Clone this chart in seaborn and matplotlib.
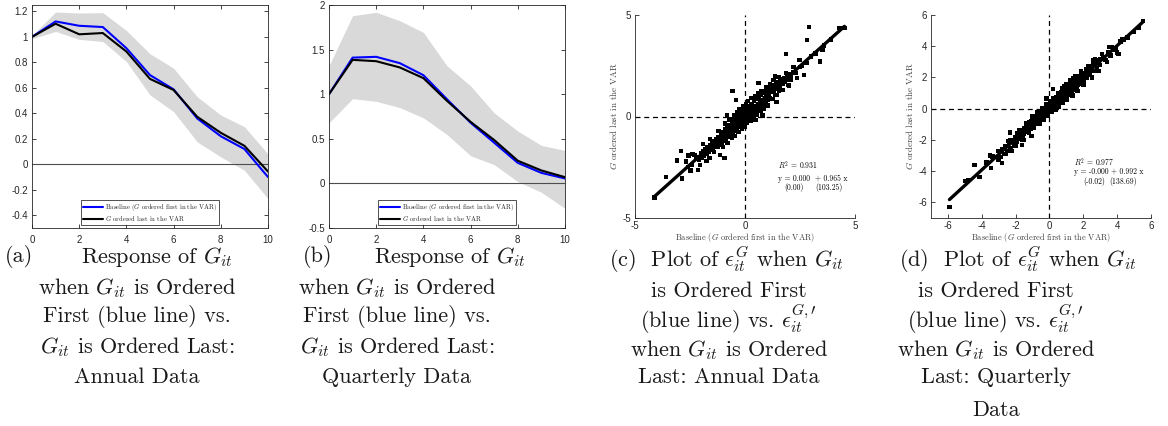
import matplotlib
matplotlib.use("Agg")
import matplotlib.pyplot as plt
from matplotlib.ticker import FuncFormatter
import seaborn as sns

# impulse responses, horizon 0..10
horizon = [0, 1, 2, 3, 4, 5, 6, 7, 8, 9, 10]
annual_first = [1.0, 1.121, 1.087, 1.077, 0.911, 0.70, 0.588, 0.36, 0.22, 0.12, -0.10]
annual_last = [1.0, 1.103, 1.02, 1.03, 0.885, 0.67, 0.583, 0.373, 0.247, 0.145, -0.057]
annual_hi = [1.01, 1.195, 1.187, 1.19, 1.05, 0.867, 0.754, 0.53, 0.386, 0.295, 0.08]
annual_lo = [0.985, 1.043, 0.98, 0.964, 0.806, 0.544, 0.413, 0.176, 0.058, -0.047, -0.27]

quarterly_first = [1.0, 1.41, 1.419, 1.348, 1.213, 0.943, 0.68, 0.456, 0.23, 0.118, 0.055]
quarterly_last = [1.0, 1.385, 1.37, 1.30, 1.18, 0.925, 0.69, 0.486, 0.254, 0.145, 0.07]
quarterly_hi = [1.32, 1.88, 1.918, 1.824, 1.693, 1.318, 1.093, 0.79, 0.587, 0.426, 0.37]
quarterly_lo = [0.68, 0.95, 0.92, 0.85, 0.735, 0.548, 0.31, 0.21, 0.02, -0.10, -0.28]

# residuals, annual (x: G first, y: G last)
annual_res_x = [
    -2.2, -2.1, -2.0, -1.95, -1.9, -1.85, -1.8, -1.75, -1.7, -1.65, -1.6, -1.55, -1.5, -1.5, -1.45,
    -1.4, -1.35, -1.3, -1.3, -1.25, -1.2, -1.2, -1.15, -1.1, -1.1, -1.05, -1.0, -1.0, -0.95, -0.9,
    -0.9, -0.85, -0.8, -0.8, -0.75, -0.7, -0.7, -0.65, -0.6, -0.6, -0.55, -0.5, -0.5, -0.45, -0.4,
    -0.4, -0.35, -0.3, -0.3, -0.25, -0.2, -0.2, -0.15, -0.1, -0.1, -0.05, 0.0, 0.0, 0.0,
    0.05, 0.1, 0.1, 0.15, 0.2, 0.2, 0.25, 0.3, 0.3, 0.35, 0.4, 0.4, 0.45, 0.5, 0.5, 0.55, 0.6, 0.6,
    0.65, 0.7, 0.7, 0.75, 0.8, 0.8, 0.85, 0.9, 0.9, 0.95, 1.0, 1.0, 1.05,
    1.1, 1.1, 1.15, 1.2, 1.2, 1.3, 1.3, 1.35, 1.4, 1.4, 1.5, 1.5, 1.55, 1.6, 1.6, 1.7, 1.7, 1.8, 1.8,
    1.9, 1.9, 2.0, 2.1, 2.2, 2.3, 2.5, 2.6, 2.8, 3.0, 3.2, 3.6, 3.9,
    -1.6, -1.4, -1.2, -1.0, -0.9, -0.8, -0.7, -0.6, -0.5, -0.45, -0.35, -0.3, -0.25, -0.15, -0.1,
    0.0, 0.05, 0.1, 0.15, 0.25, 0.3, 0.4, 0.45, 0.55, 0.6, 0.7, 0.75, 0.85, 0.95, 1.05, 1.15, 1.25,
    1.3, 1.45, 1.55, 1.7, 1.85, 2.0, 2.2, 2.35, -1.75, -1.9, -2.05, -2.3, -2.4, -2.6, -0.65, -0.2,
    0.35, 0.65, 0.95, 1.25, -0.95, -1.35,
    -0.56, -0.41, -0.83, -2.92, -3.10, -3.59, -2.86, -2.47, -2.15, -2.38, -2.56, -2.68, -0.94,
    -1.14, -1.62, -4.12, 2.91, 2.83, 1.86, 3.52, 3.41, 4.29, 4.52, 2.47, 2.67, 2.09, 1.97, 1.36,
    0.61, 1.44, 0.79, 0.48, 1.59,
]
annual_res_y = [
    -2.0, -2.15, -1.8, -2.05, -1.7, -1.95, -1.6, -1.85, -1.5, -1.75, -1.4, -1.65, -1.3, -1.55, -1.6,
    -1.2, -1.45, -1.1, -1.35, -1.5, -1.0, -1.25, -1.4, -0.9, -1.15, -1.3, -0.75, -1.0, -1.2, -0.65,
    -0.9, -1.1, -0.55, -0.8, -1.0, -0.45, -0.7, -0.9, -0.35, -0.6, -0.8, -0.2, -0.5, -0.7, -0.1,
    -0.4, -0.6, 0.05, -0.3, -0.5, 0.15, -0.2, -0.4, 0.25, -0.1, -0.3, 0.35, 0.0, -0.25,
    0.15, 0.45, 0.1, -0.1, 0.5, 0.2, 0.0, 0.6, 0.3, 0.1, 0.75, 0.4, 0.2, 0.85, 0.5, 0.3, 0.95, 0.6,
    0.4, 1.05, 0.7, 0.5, 1.15, 0.8, 0.6, 1.25, 0.9, 0.7, 1.3, 1.0, 0.8,
    1.4, 1.1, 0.9, 1.5, 1.2, 1.55, 1.25, 1.05, 1.6, 1.35, 1.7, 1.45, 1.25, 1.75, 1.55, 1.85, 1.6, 1.9, 1.7,
    2.0, 1.8, 2.1, 1.95, 2.2, 2.15, 2.45, 2.5, 2.65, 2.95, 3.1, 3.5, 3.8,
    -1.1, -1.75, -0.7, -1.5, -0.35, -1.3, -0.15, -1.05, 0.05, -0.95, 0.2, -0.75, 0.35, -0.6, 0.5,
    -0.5, 0.6, -0.3, 0.75, -0.2, 0.9, 0.0, 1.0, 0.1, 1.15, 0.3, 1.25, 0.4, 1.45, 0.55, 1.6, 0.85,
    1.8, 1.05, 1.95, 1.3, 2.15, 1.5, 2.45, 1.9, -2.2, -1.35, -2.4, -1.9, -2.4, -2.5, -0.5, 0.0,
    0.45, 0.85, 1.1, 1.35, -0.8, -1.3,
    1.27, 0.82, 0.08, -1.69, -2.17, -2.99, -3.05, -2.66, -2.63, -1.85, -1.93, -2.22, -2.05,
    -1.89, -2.05, -3.99, 4.40, 3.78, 3.07, 3.30, 2.71, 4.37, 4.37, 2.79, 2.05, 1.81, 1.56, 1.97,
    1.64, 0.71, 0.05, -0.18, 1.53,
]

# residuals, quarterly
quarterly_res_x = [
    -3.2, -3.0, -2.9, -2.8, -2.7, -2.6, -2.5, -2.4, -2.3, -2.2, -2.1, -2.0, -1.95, -1.9, -1.8, -1.75,
    -1.7, -1.6, -1.6, -1.5, -1.5, -1.4, -1.4, -1.3, -1.3, -1.2, -1.2, -1.1, -1.1, -1.0, -1.0, -0.9,
    -0.9, -0.8, -0.8, -0.7, -0.7, -0.6, -0.6, -0.5, -0.5, -0.4, -0.4, -0.3, -0.3, -0.2, -0.2, -0.1,
    -0.1, 0.0, 0.0, 0.1, 0.1, 0.2, 0.2, 0.3, 0.3, 0.4, 0.4, 0.5, 0.5, 0.6, 0.6, 0.7, 0.7, 0.8, 0.8,
    0.9, 0.9, 1.0, 1.0, 1.1, 1.1, 1.2, 1.2, 1.3, 1.3, 1.4, 1.4, 1.5, 1.5, 1.6, 1.6, 1.7, 1.7, 1.8,
    1.8, 1.9, 1.9, 2.0, 2.0, 2.2, 2.2, 2.4, 2.4, 2.6, 2.6, 2.8, 2.8, 3.0, 3.0, 3.2, 3.3, 3.5, 3.6,
    3.8, 3.9, 4.2, 4.4, 4.6, 5.0, 5.3,
    -2.6, -2.3, -2.0, -1.8, -1.6, -1.4, -1.2, -1.0, -0.9, -0.7, -0.6, -0.45, -0.35, -0.2, -0.1, 0.05,
    0.15, 0.25, 0.35, 0.5, 0.55, 0.75, 0.8, 1.0, 1.05, 1.25, 1.35, 1.55, 1.65, 1.85, 2.0, 2.3, 2.5,
    2.7, 2.9, 3.1, 3.4, 3.7, 4.0, 4.3, -3.5, -3.0, -1.3, -0.8, -0.25, 0.45, 0.95, 1.45, 2.1, 2.7,
    -5.91, -4.98, -4.79, -4.43, -4.14, -3.71, -3.45, -2.82, -3.37, -2.43, -2.24, -2.04, -1.61,
    -1.5, -1.06, -2.33, -0.22, 5.51, 4.08, 3.55, 2.96, 2.57, 2.18, 1.39, 0.90, -0.18, 0.22,
]
quarterly_res_y = [
    -3.1, -2.7, -3.1, -2.6, -2.9, -2.4, -2.7, -2.2, -2.5, -2.0, -2.3, -1.8, -2.15, -1.6, -1.95, -1.5,
    -1.75, -1.35, -1.85, -1.25, -1.6, -1.1, -1.5, -1.0, -1.4, -0.85, -1.25, -0.8, -1.3, -0.65, -1.1, -0.55,
    -1.0, -0.45, -0.95, -0.35, -0.8, -0.25, -0.7, -0.15, -0.6, -0.05, -0.5, 0.05, -0.45, 0.15, -0.3, 0.2,
    -0.25, 0.3, -0.15, 0.4, -0.05, 0.5, 0.05, 0.65, 0.1, 0.75, 0.2, 0.85, 0.3, 0.95, 0.4, 1.05, 0.5, 1.15, 0.6,
    1.25, 0.7, 1.3, 0.8, 1.4, 0.9, 1.5, 1.0, 1.6, 1.1, 1.7, 1.2, 1.8, 1.3, 1.9, 1.4, 2.0, 1.5, 2.1,
    1.6, 2.2, 1.7, 2.3, 1.8, 2.5, 2.0, 2.7, 2.2, 2.9, 2.4, 3.0, 2.6, 3.2, 2.8, 3.3, 3.1, 3.6, 3.4,
    3.8, 3.85, 4.3, 4.4, 4.55, 4.9, 5.2,
    -2.9, -2.0, -2.4, -1.4, -2.0, -0.95, -1.55, -0.5, -1.25, -0.2, -0.95, 0.05, -0.7, 0.3, -0.45, 0.45,
    -0.2, 0.7, -0.05, 1.0, 0.15, 1.3, 0.35, 1.55, 0.6, 1.8, 0.85, 2.1, 1.15, 2.4, 1.5, 2.75, 2.0,
    3.15, 2.4, 3.5, 3.0, 3.95, 3.6, 4.45, -3.0, -3.3, -1.2, -0.7, -0.1, 0.55, 1.05, 1.5, 2.2, 2.8,
    -6.31, -4.62, -4.55, -3.60, -4.36, -3.45, -3.81, -3.49, -3.06, -2.07, -2.71, -2.28, -2.34,
    -2.0, -1.75, -1.53, 0.65, 5.62, 3.50, 3.94, 3.13, 3.13, 1.97, 1.97, 1.43, 0.69, 1.26,
]

sns.set_style("ticks")
plt.rcParams["font.family"] = ["Liberation Sans", "DejaVu Sans"]
plt.rcParams["mathtext.fontset"] = "cm"
plt.rcParams["axes.unicode_minus"] = False

W, H = 1168, 426
fig = plt.figure(figsize=(W / 100, H / 100), dpi=100)
INK = "#262626"
SERIF = "cmr10"


def box(l, t, r, b):
    return fig.add_axes([l / W, 1 - b / H, (r - l) / W, (b - t) / H])


def style(ax, full_box, xpad=3):
    ax.tick_params(direction="in", top=full_box, right=full_box, length=3,
                   width=0.6, labelsize=7, colors=INK, pad=3)
    ax.tick_params(axis="x", pad=xpad)
    for s in ax.spines.values():
        s.set_color(INK)
        s.set_linewidth(0.6)
    if not full_box:
        sns.despine(ax=ax)
    ax.xaxis.set_major_formatter(FuncFormatter(lambda v, p: f"{v:g}"))
    ax.yaxis.set_major_formatter(FuncFormatter(lambda v, p: f"{v:g}"))


def irf_panel(ax, first, last, lo, hi, ylim, yticks):
    ax.fill_between(horizon, lo, hi, color="#d9d9d9", lw=0)
    ax.axhline(0, color="#4d4d4d", lw=0.8)
    sns.lineplot(x=horizon, y=first, color="blue", lw=1.5, ax=ax,
                 label="Baseline ($G$ ordered first in the VAR)")
    sns.lineplot(x=horizon, y=last, color="black", lw=1.5, ax=ax,
                 label="$G$ ordered last in the VAR")
    ax.set_xlim(0, 10)
    ax.set_ylim(*ylim)
    ax.set_xticks(range(0, 11, 2))
    ax.set_yticks(yticks)
    style(ax, True, xpad=5)
    leg = ax.legend(loc="lower center", prop={"family": SERIF, "size": 4.8},
                    frameon=True, fancybox=False, edgecolor="black",
                    borderpad=0.3, handlelength=3.0, handletextpad=0.3,
                    labelspacing=0.2, borderaxespad=0.4)
    leg.get_frame().set_linewidth(0.6)


def scatter_panel(ax, x, y, lim, ticks, r2, eq, se1, se2, tx, ty, se_x):
    ax.axhline(0, color="black", lw=0.9, ls=(0, (4, 3)))
    ax.axvline(0, color="black", lw=0.9, ls=(0, (4, 3)))
    sns.scatterplot(x=x, y=y, marker="s", s=10, color="black", edgecolor="none",
                    linewidth=0, ax=ax)
    sns.regplot(x=x, y=y, scatter=False, ci=None, truncate=True, color="black",
                line_kws={"lw": 2.4}, ax=ax)
    ax.set_xlim(*lim[0])
    ax.set_ylim(*lim[1])
    ax.set_xticks(ticks[0])
    ax.set_yticks(ticks[1])
    style(ax, False, xpad=2.5)
    ax.set_xlabel("Baseline ($G$ ordered first in the VAR)", fontfamily=SERIF,
                  fontsize=6, color="#404040", labelpad=0)
    ax.set_ylabel("$G$ ordered last in the VAR", fontfamily=SERIF,
                  fontsize=6.5, color="#404040", labelpad=2)
    kw = dict(fontfamily=SERIF, fontsize=5.5, va="center", color="black")
    ax.text(tx, ty[0], r2, **kw)
    ax.text(tx, ty[1], eq, **kw)
    ax.text(se_x[0], ty[2], se1, **kw)
    ax.text(se_x[1], ty[2], se2, **kw)


ax_a = box(32, 5, 268, 228)
irf_panel(ax_a, annual_first, annual_last, annual_lo, annual_hi, (-0.5, 1.25),
          [-0.4, -0.2, 0, 0.2, 0.4, 0.6, 0.8, 1, 1.2])

ax_b = box(329, 5, 565, 228)
irf_panel(ax_b, quarterly_first, quarterly_last, quarterly_lo, quarterly_hi, (-0.5, 2),
          [-0.5, 0, 0.5, 1, 1.5, 2])

ax_c = box(635, 15, 855, 218)
scatter_panel(ax_c, annual_res_x, annual_res_y, ((-5, 5), (-5, 5)), ([-5, 0, 5], [-5, 0, 5]),
              "$R^2$ = 0.931", "y = 0.000  + 0.965 x", "(0.00)", "(103.25)",
              1.52, (-2.41, -3.07, -3.48), (1.77, 3.18))

ax_d = box(931, 15, 1151, 218)
scatter_panel(ax_d, quarterly_res_x, quarterly_res_y, ((-7, 6), (-7, 6)),
              ([-6, -4, -2, 0, 2, 4, 6], [-6, -4, -2, 0, 2, 4, 6]),
              "$R^2$ = 0.977", "y = -0.000 + 0.992 x", "(-0.02)", "(138.69)",
              1.43, (-3.45, -4.05, -4.66), (1.98, 3.55))

# sub-captions
CAP = dict(fontfamily=SERIF, fontsize=16, va="center", color="#1a1a1a")


def cap(x, y, s, ha="center"):
    fig.text(x / W, 1 - y / H, s, ha=ha, **CAP)


cap(5, 257, "(a)", ha="left")
cap(157, 257, "Response of $G_{it}$")
for y, s in zip([288, 317, 347, 377],
                ["when $G_{it}$ is Ordered", "First (blue line) vs.",
                 "$G_{it}$ is Ordered Last:", "Annual Data"]):
    cap(137, y, s)

cap(303, 257, "(b)", ha="left")
cap(450, 257, "Response of $G_{it}$")
for y, s in zip([288, 317, 347, 377],
                ["when $G_{it}$ is Ordered", "First (blue line) vs.",
                 "$G_{it}$ is Ordered Last:", "Quarterly Data"]):
    cap(397, y, s)

cap(727, 260, r"(c)  Plot of $\epsilon^G_{it}$ when $G_{it}$")
for y, s in zip([291, 319, 350, 377],
                ["is Ordered First", r"(blue line) vs. $\epsilon^{G,\prime}_{it}$",
                 "when $G_{it}$ is Ordered", "Last: Annual Data"]):
    cap(729, y, s)

cap(1018, 260, r"(d)  Plot of $\epsilon^G_{it}$ when $G_{it}$")
for y, s in zip([291, 319, 350, 377, 410],
                ["is Ordered First", r"(blue line) vs. $\epsilon^{G,\prime}_{it}$",
                 "when $G_{it}$ is Ordered", "Last: Quarterly", "Data"]):
    cap(996, y, s)

fig.savefig("out.png", dpi=100)
